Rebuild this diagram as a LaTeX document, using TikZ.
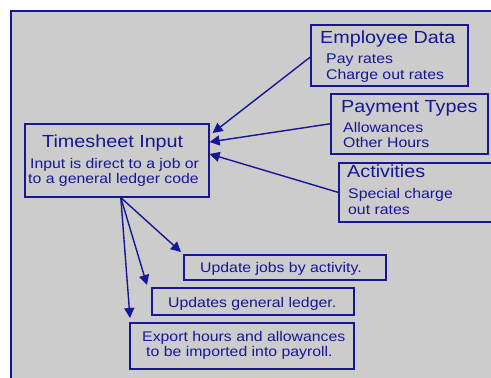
\documentclass[tikz,border=0pt]{standalone}
\usepackage{fontspec}
\setmainfont{Liberation Sans}[FakeStretch=1.13]
\usetikzlibrary{arrows.meta}
\definecolor{navy}{RGB}{22,22,150}
\definecolor{panel}{RGB}{204,204,204}
\tikzset{
  box/.style={draw=navy, line width=1.6pt, rectangle, inner sep=0pt, anchor=north west},
  ttl/.style={text=navy, anchor=base west, inner sep=0pt, font=\fontsize{17.5}{20}\selectfont},
  sub/.style={text=navy, anchor=base west, inner sep=0pt, font=\fontsize{14}{16}\selectfont},
  link/.style={draw=navy, line width=1.4pt, -{Triangle[length=10pt,width=10pt]}}
}
\begin{document}
\begin{tikzpicture}[x=1pt,y=-1pt]
\clip (0,0) rectangle (491,378);
\fill[white] (0,0) rectangle (491,378);
\draw[navy, line width=1.8pt, fill=panel] (11,11) rectangle (520,400);

% boxes
\node[box, minimum width=157pt, minimum height=61pt] (emp) at (310,24) {};
\node[box, minimum width=157pt, minimum height=60pt] (pay) at (330,93) {};
\node[box, minimum width=170pt, minimum height=59pt] (act) at (338,162) {};
\node[box, minimum width=184pt, minimum height=73pt] (ts) at (24,123) {};
\node[box, minimum width=202pt, minimum height=25pt] (upj) at (183,254) {};
\node[box, minimum width=202pt, minimum height=27pt] (ugl) at (151,287) {};
\node[box, minimum width=224pt, minimum height=46pt] (exp) at (129,322) {};

% texts
\node[ttl] (empt) at (320,43) {Employee Data};
\node[sub] (emps1) at (326,63) {Pay rates};
\node[sub] (emps2) at (326,79) {Charge out rates};
\node[ttl] (payt) at (341,112) {Payment Types};
\node[sub] (pays1) at (343,132) {Allowances};
\node[sub] (pays2) at (343,147) {Other Hours};
\node[ttl] (actt) at (347,177) {Activities};
\node[sub] (acts1) at (348,198) {Special charge};
\node[sub] (acts2) at (348,214) {out rates};
\node[ttl] (tst) at (42,147) {Timesheet Input};
\node[sub] (tss1) at (30,168) {Input is direct to a job or};
\node[sub] (tss2) at (28,183) {to a general ledger code};
\node[sub] (upjt) at (200,272) {Update jobs by activity.};
\node[sub] (uglt) at (168,307) {Updates general ledger.};
\node[sub] (expt1) at (142,341) {Export hours and allowances};
\node[sub] (expt2) at (146,356) {to be imported into payroll.};

% connector end points
\coordinate (tsA) at ([xshift=3pt,yshift=-10pt]ts.north east);
\coordinate (tsB) at ([yshift=-19pt]ts.north east);
\coordinate (tsC) at ([yshift=-31pt]ts.north east);
\coordinate (tsD) at ([xshift=4pt]ts.south);
\coordinate (upjE) at ([xshift=-2pt,yshift=2pt]upj.north west);
\coordinate (uglE) at ([xshift=-4pt,yshift=2pt]ugl.north west);
\coordinate (expE) at ([xshift=1pt,yshift=4pt]exp.north west);

% connectors
\draw[link] ([yshift=-2pt]emp.west) -- (tsA);
\draw[link] (pay.west) -- (tsB);
\draw[link] (act.west) -- (tsC);
\draw[link] (tsD) -- (upjE);
\draw[link] (tsD) -- (uglE);
\draw[link] (tsD) -- (expE);
\end{tikzpicture}
\end{document}
